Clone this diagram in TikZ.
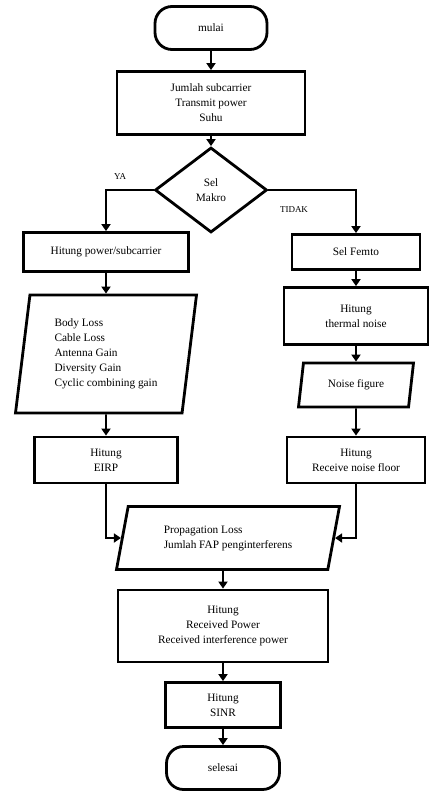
\documentclass[tikz,border=0pt]{standalone}
\usepackage{fontspec}
\setmainfont{Liberation Serif}
\usetikzlibrary{shapes.geometric,arrows.meta}
\tikzset{
  box/.style={draw,line width=2.8pt,align=center,inner sep=2pt},
  term/.style={box,rounded corners=17pt},
  para/.style={draw,line width=2.8pt,trapezium,trapezium stretches body,align=left,inner sep=2pt},
  lbl/.style={font=\fontsize{9}{10}\selectfont},
  arr/.style={line width=1.8pt,-{Triangle[length=7pt,width=9pt]}},
}
\begin{document}
\begin{tikzpicture}[x=1pt,y=-1pt,font=\fontsize{11.3}{15}\selectfont]
\useasboundingbox (0,0) rectangle (442,793);
\node[term,minimum width=112pt,minimum height=43pt] (mulai) at (211,28) {mulai};
\node[box,minimum width=188pt,minimum height=63pt] (inp) at (211,103) {Jumlah subcarrier\\Transmit power\\Suhu};
\node[draw,diamond,line width=2.8pt,minimum width=112pt,minimum height=85pt,align=center,inner sep=0pt] (sel) at (211,190) {Sel\\Makro};
\node[lbl] (ya) at (120,177) {YA};
\node[lbl] (tidak) at (294,210) {TIDAK};
% cabang makro
\node[box,minimum width=165pt,minimum height=39pt] (pwr) at (106,252) {Hitung power/subcarrier};
\node[para,trapezium left angle=79,trapezium right angle=101,minimum width=181pt,minimum height=118pt] (loss) at (106,354) {Body Loss\\Cable Loss\\Antenna Gain\\Diversity Gain\\Cyclic combining gain};
\node[box,minimum width=143pt,minimum height=46pt] (eirp) at (106,460) {Hitung\\EIRP};
% cabang femto
\node[box,minimum width=128pt,minimum height=35pt] (femto) at (356,252) {Sel Femto};
\node[box,minimum width=144pt,minimum height=57pt] (thermal) at (356,316) {Hitung\\thermal noise};
\node[para,trapezium left angle=71,trapezium right angle=109,minimum width=115pt,minimum height=44pt] (nf) at (356,385) {Noise figure};
\node[box,minimum width=138pt,minimum height=46pt] (floor) at (356,460) {Hitung\\Receive noise floor};
% gabung
\node[para,trapezium left angle=68,trapezium right angle=112,minimum width=223pt,minimum height=63pt] (prop) at (228,538) {Propagation Loss\\Jumlah FAP penginterferens};
\node[box,minimum width=210pt,minimum height=72pt] (rx) at (223,626) {Hitung\\Received Power\\Received interference power};
\node[box,minimum width=115pt,minimum height=45pt] (sinr) at (223,705) {Hitung\\SINR};
\node[term,minimum width=113pt,minimum height=43pt] (selesai) at (223,768) {selesai};
\draw[arr] (mulai) -- (inp);
\draw[arr] (inp) -- (sel);
\draw[arr] (sel.west) -| (pwr.north);
\draw[arr] (sel.east) -| (femto.north);
\draw[arr] (pwr) -- (loss);
\draw[arr] (loss) -- (eirp);
\draw[arr] (femto) -- (thermal);
\draw[arr] (thermal) -- (nf);
\draw[arr] (nf) -- (floor);
\draw[arr] (eirp.south) |- (prop.west);
\draw[arr] (floor.south) |- (prop.east);
\draw[arr] (prop.south -| rx.north) -- (rx.north);
\draw[arr] (rx) -- (sinr);
\draw[arr] (sinr) -- (selesai);
\end{tikzpicture}
\end{document}
